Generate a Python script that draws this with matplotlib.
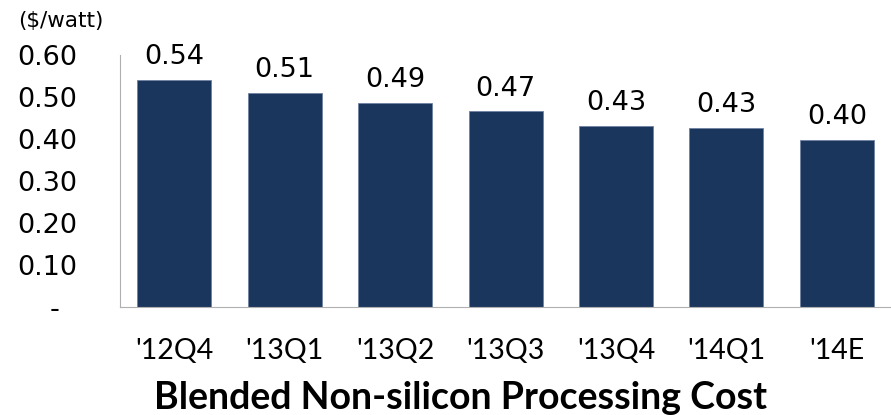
import numpy as np
import matplotlib.pyplot as plt

## Données
quarters = ["'12Q4", "'13Q1", "'13Q2", "'13Q3", "'13Q4", "'14Q1", "'14E"]
cost = [0.540, 0.509, 0.486, 0.466, 0.431, 0.427, 0.398]
yticks = [0.0, 0.1, 0.2, 0.3, 0.4, 0.5, 0.6]
yticklabels = ["-  ", "0.10", "0.20", "0.30", "0.40", "0.50", "0.60"]

narrow = ["Lato", "DejaVu Sans"]
barcolor = "#1B365D"

fig = plt.figure(figsize=(8.91, 4.15), dpi=100)
ax = fig.add_axes([0.1347, 0.2602, 0.8653, 0.6073])

x = np.arange(len(quarters))
bars = ax.bar(x, cost, width=0.67, color=barcolor, edgecolor="#6f82a0", linewidth=0.6)

for xi, v in zip(x, cost):
    ax.annotate(f"{v:.2f}", (xi, v), xytext=(0, 7), textcoords="offset points",
                ha="center", va="bottom", fontsize=19.5, color="black")

ax.set_xlim(-0.49, 6.49)
ax.set_ylim(0, 0.6)
ax.set_yticks(yticks)
ax.set_yticklabels(yticklabels, fontsize=19.5)
ax.set_xticks(x)
ax.set_xticklabels(quarters, fontsize=20.5, family=narrow)
ax.tick_params(axis="y", length=0, pad=31)
ax.tick_params(axis="x", length=0, pad=22)

for s in ["top", "right"]:
    ax.spines[s].set_visible(False)
ax.spines["left"].set_color("#b0b0b0")
ax.spines["bottom"].set_color("#b0b0b0")

fig.text(0.02, 0.95, "($/watt)", fontsize=15.5, ha="left", va="center")
fig.text(0.517, 0.04, "Blended Non-silicon Processing Cost", fontsize=27,
         fontweight="bold", ha="center", va="center", family=narrow)

fig.savefig("out.png", dpi=100)
